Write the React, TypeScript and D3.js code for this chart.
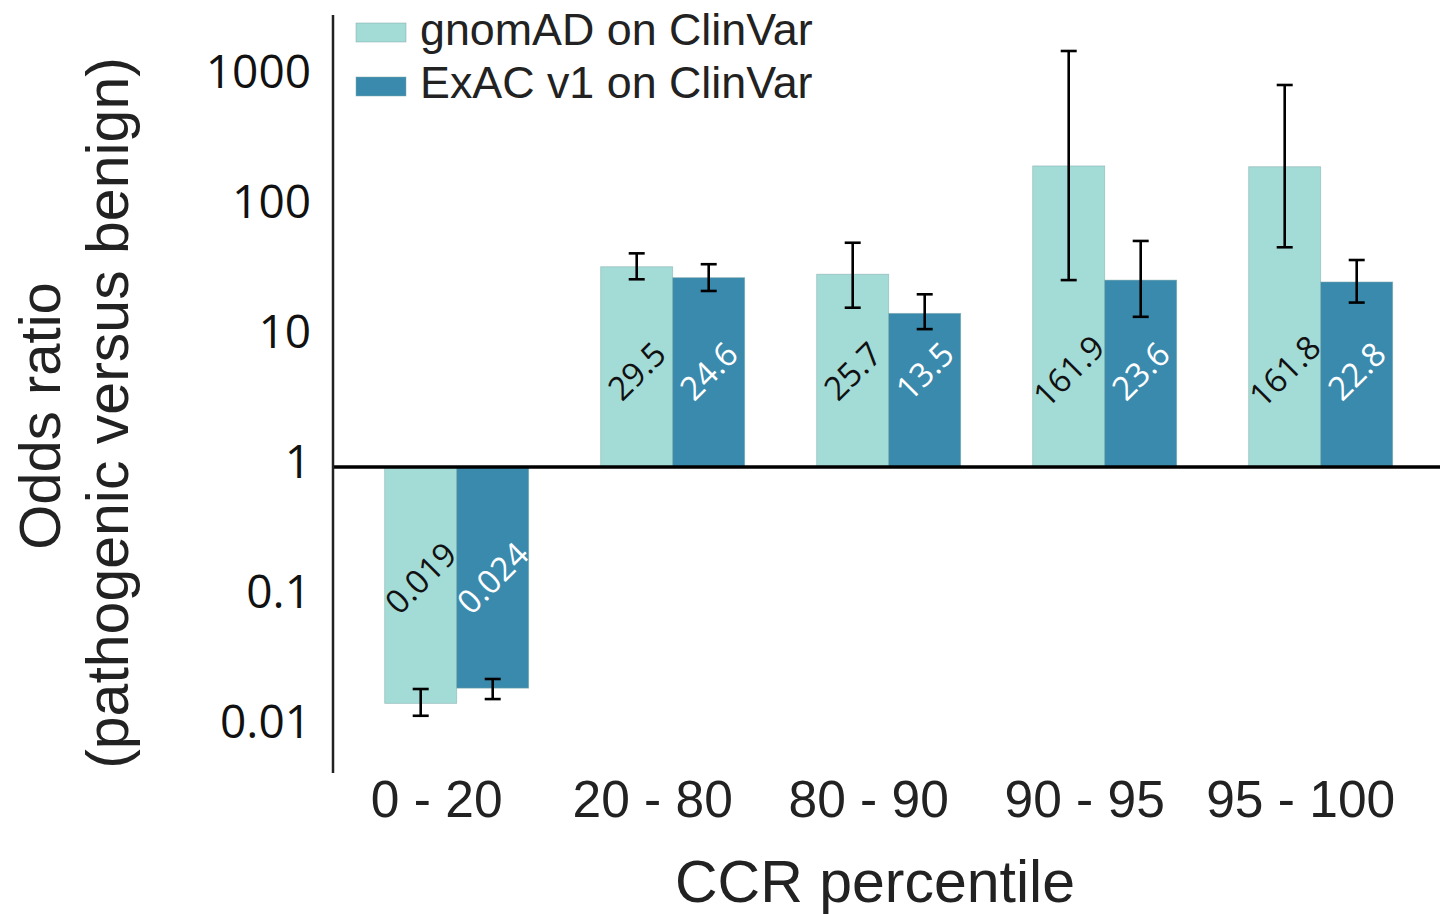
import React from "react";
import * as d3 from "d3";

const categories = ["0 - 20", "20 - 80", "80 - 90", "90 - 95", "95 - 100"];
const seriesNames = ["gnomAD on ClinVar", "ExAC v1 on ClinVar"];
const gnomadValues = [0.0152, 34.7, 30.4, 207, 204];
const exacValues = [0.0199, 28.6, 15.2, 27.4, 26.5];
const gnomadLow = [0.0122, 27.8, 16.8, 27.4, 49];
const gnomadHigh = [0.0196, 44.0, 53.1, 1585, 868];
const exacLow = [0.0164, 22.6, 11.5, 14.3, 18.4];
const exacHigh = [0.0234, 36.3, 21.3, 54.8, 39.1];
const gnomadLabels = ["0.019", "29.5", "25.7", "161.9", "161.8"];
const exacLabels = ["0.024", "24.6", "13.5", "23.6", "22.8"];
const tickValues = [0.01, 0.1, 1, 10, 100, 1000];
const tickLabels = ["0.01", "0.1", "1", "10", "100", "1000"];

const colors = ["#a3dbd7", "#3a8aad"];
const labelColors = ["#111", "#fff"];
const SANS = "'Liberation Sans', Arial, Helvetica, sans-serif";
const OPEN = "'Open Sans', 'Noto Sans', sans-serif";

export default function App() {
  const W = 1440, H = 914;
  const y = d3.scaleLog().domain([0.01, 1000]).range([727, 77]);
  const x = d3.scaleBand<string>().domain(categories).range([348.7, 1428.7]).paddingInner(1 / 3).paddingOuter(1 / 6);
  const xs = d3.scaleBand<string>().domain(seriesNames).range([0, x.bandwidth()]);
  const series = [
    { name: seriesNames[0], vals: gnomadValues, lo: gnomadLow, hi: gnomadHigh, labels: gnomadLabels },
    { name: seriesNames[1], vals: exacValues, lo: exacLow, hi: exacHigh, labels: exacLabels },
  ];
  const y1 = y(1);
  const axisX = 333;
  const cap = 8;

  return (
    <svg width={W} height={H} style={{ position: "absolute", left: 0, top: 0, background: "#fff" }}>
      {/* bars */}
      {series.map((s, si) =>
        categories.map((c, i) => {
          const bx = (x(c) as number) + (xs(s.name) as number);
          const v = s.vals[i];
          const top = Math.min(y(v), y1);
          const h = Math.abs(y(v) - y1);
          return (
            <rect key={`b${si}-${i}`} x={bx} y={top} width={xs.bandwidth()} height={h}
              fill={colors[si]} stroke="#7fa9a6" strokeOpacity={0.6} strokeWidth={0.8} />
          );
        })
      )}
      {/* bar labels */}
      {series.map((s, si) =>
        categories.map((c, i) => {
          const cx = (x(c) as number) + (xs(s.name) as number) + xs.bandwidth() / 2;
          const cy = s.vals[i] >= 1 ? y1 - 96 : y1 + 111;
          return (
            <text key={`l${si}-${i}`} x={cx} y={cy} transform={`rotate(-45 ${cx} ${cy})`}
              textAnchor="middle" dy="0.36em" fontFamily={OPEN} fontSize={33} fill={labelColors[si]}>
              {s.labels[i]}
            </text>
          );
        })
      )}
      {/* error bars */}
      {series.map((s, si) =>
        categories.map((c, i) => {
          const cx = (x(c) as number) + (xs(s.name) as number) + xs.bandwidth() / 2;
          const yl = y(s.lo[i]);
          const yh = y(s.hi[i]);
          return (
            <g key={`e${si}-${i}`} stroke="#000" strokeWidth={2.6}>
              <line x1={cx} x2={cx} y1={yl} y2={yh} />
              <line x1={cx - cap} x2={cx + cap} y1={yl} y2={yl} />
              <line x1={cx - cap} x2={cx + cap} y1={yh} y2={yh} />
            </g>
          );
        })
      )}
      {/* baseline at 1 */}
      <line x1={axisX} x2={W} y1={y1} y2={y1} stroke="#000" strokeWidth={3.5} />
      {/* y axis */}
      <line x1={axisX} x2={axisX} y1={15} y2={773} stroke="#222" strokeWidth={2.5} />
      {tickValues.map((t, i) => (
        <text key={`t${i}`} x={311} y={y(t) - 6} dy="0.36em" textAnchor="end"
          fontFamily={OPEN} fontSize={46} fill="#111">
          {tickLabels[i]}
        </text>
      ))}
      {/* x tick labels */}
      {categories.map((c) => (
        <text key={`x${c}`} x={(x(c) as number) + x.bandwidth() / 2 - 20} y={817}
          textAnchor="middle" fontFamily={SANS} fontSize={51.5} fill="#222">
          {c}
        </text>
      ))}
      {/* axis titles */}
      <text x={875} y={902} textAnchor="middle" fontFamily={SANS} fontSize={59} fill="#222">
        CCR percentile
      </text>
      <text transform="translate(60,416) rotate(-90)" textAnchor="middle" fontFamily={SANS} fontSize={58} fill="#222">
        Odds ratio
      </text>
      <text transform="translate(128,413) rotate(-90)" textAnchor="middle" fontFamily={SANS} fontSize={59} fill="#222">
        (pathogenic versus benign)
      </text>
      {/* legend */}
      {seriesNames.map((n, i) => (
        <g key={`lg${i}`}>
          <rect x={356} y={23 + i * 54} width={50} height={19} fill={colors[i]} stroke="#7fa9a6" strokeOpacity={0.6} strokeWidth={0.8} />
          <text x={420} y={45 + i * 53} fontFamily={SANS} fontSize={44.8} fill="#222">{n}</text>
        </g>
      ))}
    </svg>
  );
}
